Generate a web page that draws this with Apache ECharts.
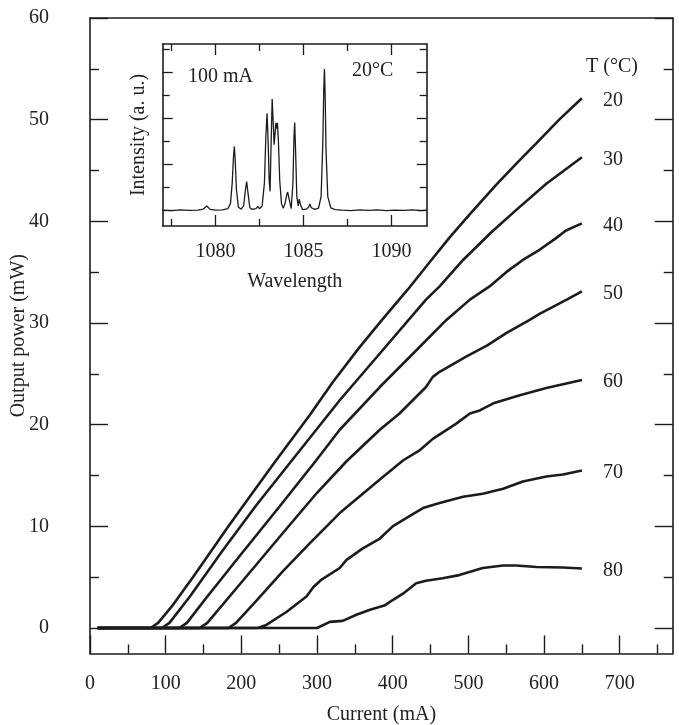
<!DOCTYPE html>
<html>
<head>
<meta charset="utf-8">
<script src="https://cdn.jsdelivr.net/npm/echarts@6/dist/echarts.min.js"></script>
<style>html,body{margin:0;padding:0;background:#fff}#c{width:679px;height:725px}</style>
</head>
<body>
<div id="c"></div>
<script>
// ---- Main chart data: current (mA) vs output power (mW) for each temperature ----
const temps = ['20', '30', '40', '50', '60', '70', '80'];
const curT20 = [10, 80, 90, 110, 136, 182, 211, 246, 290, 321, 355, 387, 420, 449, 475, 502, 537, 565, 590, 620, 650];
const powT20 = [0, 0, 0.5, 2.3, 5.0, 9.9, 12.9, 16.5, 20.9, 24.2, 27.5, 30.4, 33.3, 36.0, 38.4, 40.7, 43.6, 45.8, 47.7, 50.0, 52.1];
const curT30 = [10, 95, 105, 132, 176, 220, 268, 330, 383, 444, 462, 493, 530, 563, 603, 650];
const powT30 = [0, 0, 0.5, 3.1, 7.7, 12.1, 16.6, 22.4, 27.0, 32.3, 33.6, 36.2, 38.9, 41.1, 43.7, 46.3];
const curT40 = [10, 118, 128, 154, 198, 251, 299, 330, 383, 427, 471, 502, 528, 550, 572, 594, 615, 629, 650];
const powT40 = [0, 0, 0.5, 3.0, 7.1, 12.0, 16.5, 19.5, 23.7, 27.0, 30.3, 32.3, 33.6, 35.0, 36.2, 37.2, 38.3, 39.1, 39.8];
const curT50 = [10, 145, 155, 198, 251, 300, 339, 383, 409, 444, 453, 462, 497, 525, 550, 581, 594, 630, 650];
const powT50 = [0, 0, 0.5, 4.3, 9.0, 13.3, 16.4, 19.5, 21.1, 23.7, 24.7, 25.2, 26.7, 27.8, 29.0, 30.3, 30.9, 32.3, 33.1];
const curT60 = [10, 183, 193, 220, 255, 290, 330, 383, 414, 436, 453, 484, 502, 515, 533, 568, 603, 650];
const powT60 = [0, 0, 0.5, 2.7, 5.6, 8.3, 11.3, 14.6, 16.5, 17.5, 18.6, 20.1, 21.1, 21.4, 22.1, 22.9, 23.6, 24.4];
const curT70 = [10, 222, 233, 260, 286, 295, 305, 330, 339, 360, 383, 400, 420, 440, 462, 493, 519, 546, 572, 603, 625, 650];
const powT70 = [0, 0, 0.3, 1.6, 3.1, 4.0, 4.7, 5.9, 6.7, 7.8, 8.8, 10.0, 10.9, 11.8, 12.3, 12.9, 13.2, 13.7, 14.4, 14.9, 15.1, 15.5];
const curT80 = [10, 300, 317, 334, 352, 370, 389, 400, 414, 431, 444, 466, 488, 519, 546, 563, 590, 625, 650];
const powT80 = [0, 0, 0.6, 0.7, 1.3, 1.8, 2.2, 2.75, 3.4, 4.4, 4.65, 4.9, 5.2, 5.9, 6.15, 6.15, 6.0, 5.95, 5.85];

// ---- Inset data: spectrum at 100 mA, 20 °C ----
const wavelength = [1077.0, 1077.5, 1078.0, 1078.5, 1079.0, 1079.3, 1079.5, 1079.7, 1080.0, 1080.4, 1080.7, 1080.85, 1080.95, 1081.02, 1081.07, 1081.12, 1081.19, 1081.3, 1081.45, 1081.6, 1081.7, 1081.77, 1081.84, 1081.95, 1082.1, 1082.3, 1082.4, 1082.5, 1082.65, 1082.78, 1082.86, 1082.93, 1082.99, 1083.05, 1083.1, 1083.15, 1083.22, 1083.28, 1083.33, 1083.38, 1083.43, 1083.48, 1083.52, 1083.58, 1083.65, 1083.75, 1083.85, 1083.95, 1084.05, 1084.1, 1084.17, 1084.3, 1084.4, 1084.46, 1084.5, 1084.55, 1084.62, 1084.7, 1084.76, 1084.83, 1084.95, 1085.15, 1085.3, 1085.36, 1085.45, 1085.65, 1085.85, 1086.0, 1086.1, 1086.15, 1086.19, 1086.23, 1086.28, 1086.38, 1086.55, 1086.8, 1087.2, 1087.7, 1088.2, 1088.7, 1089.2, 1089.7, 1090.2, 1090.7, 1091.2, 1091.7, 1092.0];
const intensity = [0.02, 0.0, 0.03, 0.01, 0.02, 0.06, 0.2, 0.05, 0.02, 0.03, 0.08, 0.3, 1.2, 2.3, 2.78, 2.2, 0.9, 0.15, 0.06, 0.2, 0.9, 1.26, 0.8, 0.12, 0.05, 0.08, 0.18, 0.08, 0.2, 1.2, 3.2, 4.22, 3.0, 1.3, 0.83, 2.6, 4.83, 3.8, 2.85, 3.3, 3.8, 3.55, 3.8, 2.9, 1.3, 0.3, 0.1, 0.3, 0.7, 0.8, 0.55, 0.08, 1.2, 3.2, 3.82, 2.6, 0.6, 0.2, 0.5, 0.25, 0.04, 0.06, 0.15, 0.28, 0.12, 0.05, 0.1, 0.6, 3.0, 5.2, 6.14, 5.0, 2.6, 0.6, 0.12, 0.04, 0.02, 0.0, 0.03, 0.01, 0.03, 0.0, 0.02, 0.01, 0.03, 0.0, 0.02];

// ---- Tick values ----
const mainXTicks = [0, 100, 200, 300, 400, 500, 600, 700];
const mainXMinor = [50, 150, 250, 350, 450, 550, 650, 750];
const mainYTicks = [0, 10, 20, 30, 40, 50, 60];
const mainYMinor = [5, 15, 25, 35, 45, 55];
const insetXTicks = [1080, 1085, 1090];
const insetXMinor = [1077.5, 1082.5, 1087.5];
const insetYTicks = [0, 2, 4, 6];
const insetYMinor = [1, 3, 5, 7];

const curSets = [curT20, curT30, curT40, curT50, curT60, curT70, curT80];
const powSets = [powT20, powT30, powT40, powT50, powT60, powT70, powT80];

const FONT = "'Liberation Serif', 'DejaVu Serif', serif";
const INK = '#1c1c1c';
const TXT = '#222';

function zip(a, b) { return a.map((v, i) => [v, b[i]]); }
const plain = v => String(v);

const frame = { show: true, onZero: false, lineStyle: { color: INK, width: 1.6 } };
const noLine = { show: false, onZero: false };

function mkA(opts) {
  return Object.assign({
    type: 'value', splitLine: { show: false }, axisLine: noLine,
    axisLabel: { show: false }, axisTick: { show: false }, nameMoveOverlap: false
  }, opts);
}
function ticks(len, vals, w) {
  return { show: true, inside: true, length: len, customValues: vals, lineStyle: { color: INK, width: w } };
}

const xAxes = [
  mkA({ gridIndex: 0, min: 0, max: 770, position: 'bottom', axisLine: frame,
    axisTick: ticks(18, mainXTicks, 1.4),
    axisLabel: { show: true, customValues: mainXTicks, formatter: plain, fontFamily: FONT, fontSize: 20, color: TXT, margin: 20 },
    name: 'Current (mA)', nameLocation: 'middle', nameGap: 51,
    nameTextStyle: { fontFamily: FONT, fontSize: 20, color: TXT } }),
  mkA({ gridIndex: 0, min: 0, max: 770, position: 'bottom', axisTick: ticks(9, mainXMinor, 1.4) }),
  mkA({ gridIndex: 0, min: 0, max: 770, position: 'top', axisLine: frame }),
  mkA({ gridIndex: 1, min: 1077, max: 1092, position: 'bottom', axisLine: frame,
    axisTick: ticks(11, insetXTicks, 1.3),
    axisLabel: { show: true, customValues: insetXTicks, formatter: plain, fontFamily: FONT, fontSize: 20, color: TXT, margin: 16 },
    name: 'Wavelength', nameLocation: 'middle', nameGap: 46,
    nameTextStyle: { fontFamily: FONT, fontSize: 20, color: TXT } }),
  mkA({ gridIndex: 1, min: 1077, max: 1092, position: 'bottom', axisTick: ticks(7, insetXMinor, 1.3) }),
  mkA({ gridIndex: 1, min: 1077, max: 1092, position: 'top', axisLine: frame, axisTick: ticks(11, insetXTicks, 1.3) }),
  mkA({ gridIndex: 1, min: 1077, max: 1092, position: 'top', axisTick: ticks(7, insetXMinor, 1.3) })
];

const yAxes = [
  mkA({ gridIndex: 0, min: -2.5, max: 60, position: 'left', axisLine: frame,
    axisTick: ticks(18, mainYTicks, 1.4),
    axisLabel: { show: true, customValues: mainYTicks, formatter: plain, fontFamily: FONT, fontSize: 20, color: TXT, margin: 41 },
    name: 'Output power (mW)', nameLocation: 'middle', nameGap: 61, nameRotate: 90,
    nameTextStyle: { fontFamily: FONT, fontSize: 20, color: TXT } }),
  mkA({ gridIndex: 0, min: -2.5, max: 60, position: 'left', axisTick: ticks(9, mainYMinor, 1.4) }),
  mkA({ gridIndex: 0, min: -2.5, max: 60, position: 'right', axisLine: frame, axisTick: ticks(18, mainYTicks, 1.4) }),
  mkA({ gridIndex: 0, min: -2.5, max: 60, position: 'right', axisTick: ticks(9, mainYMinor, 1.4) }),
  mkA({ gridIndex: 1, min: -0.67, max: 7.22, position: 'left', axisLine: frame,
    axisTick: ticks(10, insetYTicks, 1.3),
    name: 'Intensity (a. u.)', nameLocation: 'middle', nameGap: 14, nameRotate: 90,
    nameTextStyle: { fontFamily: FONT, fontSize: 20, color: TXT } }),
  mkA({ gridIndex: 1, min: -0.67, max: 7.22, position: 'left', axisTick: ticks(7, insetYMinor, 1.3) }),
  mkA({ gridIndex: 1, min: -0.67, max: 7.22, position: 'right', axisLine: frame, axisTick: ticks(10, insetYTicks, 1.3) }),
  mkA({ gridIndex: 1, min: -0.67, max: 7.22, position: 'right', axisTick: ticks(7, insetYMinor, 1.3) })
];

const series = temps.map((t, i) => ({
  type: 'line', name: t, xAxisIndex: 0, yAxisIndex: 0,
  data: zip(curSets[i], powSets[i]), showSymbol: false, symbol: 'none',
  lineStyle: { color: INK, width: 2.6 }, z: 3,
  endLabel: { show: true, formatter: t, distance: 21, offset: [0, 2], fontFamily: FONT, fontSize: 20, color: TXT }
}));
series.push({
  type: 'line', name: 'spectrum', xAxisIndex: 3, yAxisIndex: 4,
  data: zip(wavelength, intensity), showSymbol: false, symbol: 'none',
  lineStyle: { color: INK, width: 1.3 }, z: 3
});

const chart = echarts.init(document.getElementById('c'), null, { renderer: 'canvas' });
chart.setOption({
  animation: false,
  backgroundColor: '#fff',
  grid: [
    { left: 90, right: 6.3, top: 18, bottom: 71.6, containLabel: false, outerBoundsMode: 'none' },
    { left: 162.7, width: 264, top: 44, height: 182, containLabel: false, outerBoundsMode: 'none' }
  ],
  xAxis: xAxes,
  yAxis: yAxes,
  series: series,
  graphic: [
    { type: 'text', left: 586, top: 57, style: { text: 'T (°C)', font: "20px 'Liberation Serif'", fill: TXT } },
    { type: 'text', left: 188, top: 67, style: { text: '100 mA', font: "20px 'Liberation Serif'", fill: TXT } },
    { type: 'text', left: 352, top: 61, style: { text: '20°C', font: "20px 'Liberation Serif'", fill: TXT } }
  ]
});
</script>
</body>
</html>
